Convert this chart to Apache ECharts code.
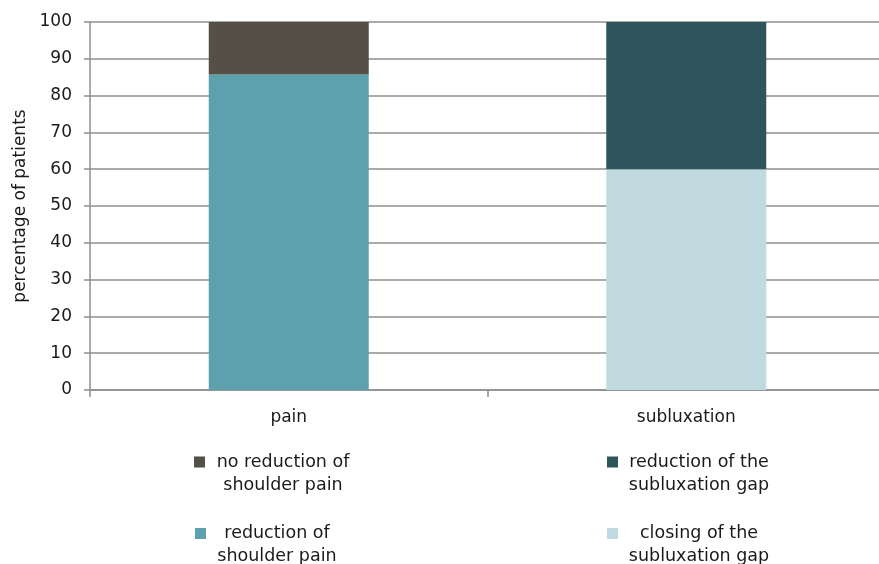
<!DOCTYPE html>
<html>
<head>
<meta charset="utf-8">
<script src="https://cdn.jsdelivr.net/npm/echarts@6/dist/echarts.min.js"></script>
<style>
html,body{margin:0;padding:0;background:#fff;}
#chart{width:879px;height:564px;}
</style>
</head>
<body>
<div id="chart"></div>
<script>
const categories = ['pain', 'subluxation'];
const yTicks = [0, 10, 20, 30, 40, 50, 60, 70, 80, 90, 100];
const reductionOfPain = [85.7, null];
const noReductionOfPain = [14.3, null];
const closingOfGap = [null, 60];
const reductionOfGap = [null, 40];

const seriesNames = {
  noRed: 'no reduction of\nshoulder pain',
  red: 'reduction of\nshoulder pain',
  redGap: 'reduction of the\nsubluxation gap',
  close: 'closing of the\nsubluxation gap'
};
const colors = {
  noRed: '#545045',
  red: '#5ea1ae',
  redGap: '#2e545c',
  close: '#c0dadf'
};

const FONT = 'DejaVu Sans';
const TXT = '#1a1a1a';
const GRID = '#8f8f8f';

function legendFor(key, left, top, w) {
  return {
    show: true,
    data: [seriesNames[key]],
    left: left,
    top: top,
    padding: 0,
    orient: 'horizontal',
    itemWidth: 11,
    itemHeight: 11,
    icon: 'rect',
    selectedMode: false,
    formatter: function (name) {
      return name.split('\n').map(function (s) { return '{c|' + s + '}'; }).join('\n');
    },
    textStyle: {
      fontFamily: FONT,
      fontSize: 17.5,
      color: TXT,
      padding: [23, 0, 0, 0],
      rich: {
        c: { fontFamily: FONT, fontSize: 17.5, color: TXT, width: w, align: 'center', lineHeight: 23 }
      }
    }
  };
}

const chart = echarts.init(document.getElementById('chart'), null, { renderer: 'canvas' });
chart.setOption({
  animation: false,
  backgroundColor: '#ffffff',
  grid: { left: 90, right: -6, top: 22, bottom: 174, containLabel: false, outerBoundsMode: 'none' },
  legend: [
    legendFor('noRed', 194, 453, 146),
    legendFor('redGap', 607, 453, 152),
    legendFor('red', 195, 524.5, 132),
    legendFor('close', 607, 524.5, 152)
  ],
  xAxis: {
    type: 'category',
    data: categories,
    axisLine: { show: true, lineStyle: { color: GRID, width: 1.5 } },
    axisTick: { show: true, length: 7, lineStyle: { color: GRID, width: 1.5 } },
    axisLabel: { fontFamily: FONT, fontSize: 17, color: TXT, margin: 19 }
  },
  yAxis: {
    type: 'value',
    min: 0,
    max: 100,
    interval: 10,
    name: 'percentage of patients',
    nameLocation: 'middle',
    nameGap: 60,
    nameTextStyle: { fontFamily: FONT, fontSize: 17, color: TXT },
    axisLine: { show: true, lineStyle: { color: GRID, width: 1.5 } },
    axisTick: { show: true, length: 6, lineStyle: { color: GRID, width: 1.5 } },
    axisLabel: {
      fontFamily: FONT, fontSize: 17, color: TXT, margin: 18,
      formatter: function (v) { return yTicks.indexOf(v) >= 0 ? String(v) : ''; }
    },
    splitLine: { show: true, lineStyle: { color: GRID, width: 1.5 } }
  },
  series: [
    { name: seriesNames.red, type: 'bar', stack: 'total', barWidth: 160, data: reductionOfPain, itemStyle: { color: colors.red } },
    { name: seriesNames.noRed, type: 'bar', stack: 'total', barWidth: 160, data: noReductionOfPain, itemStyle: { color: colors.noRed } },
    { name: seriesNames.close, type: 'bar', stack: 'total', barWidth: 160, data: closingOfGap, itemStyle: { color: colors.close } },
    { name: seriesNames.redGap, type: 'bar', stack: 'total', barWidth: 160, data: reductionOfGap, itemStyle: { color: colors.redGap } }
  ]
});
</script>
</body>
</html>
